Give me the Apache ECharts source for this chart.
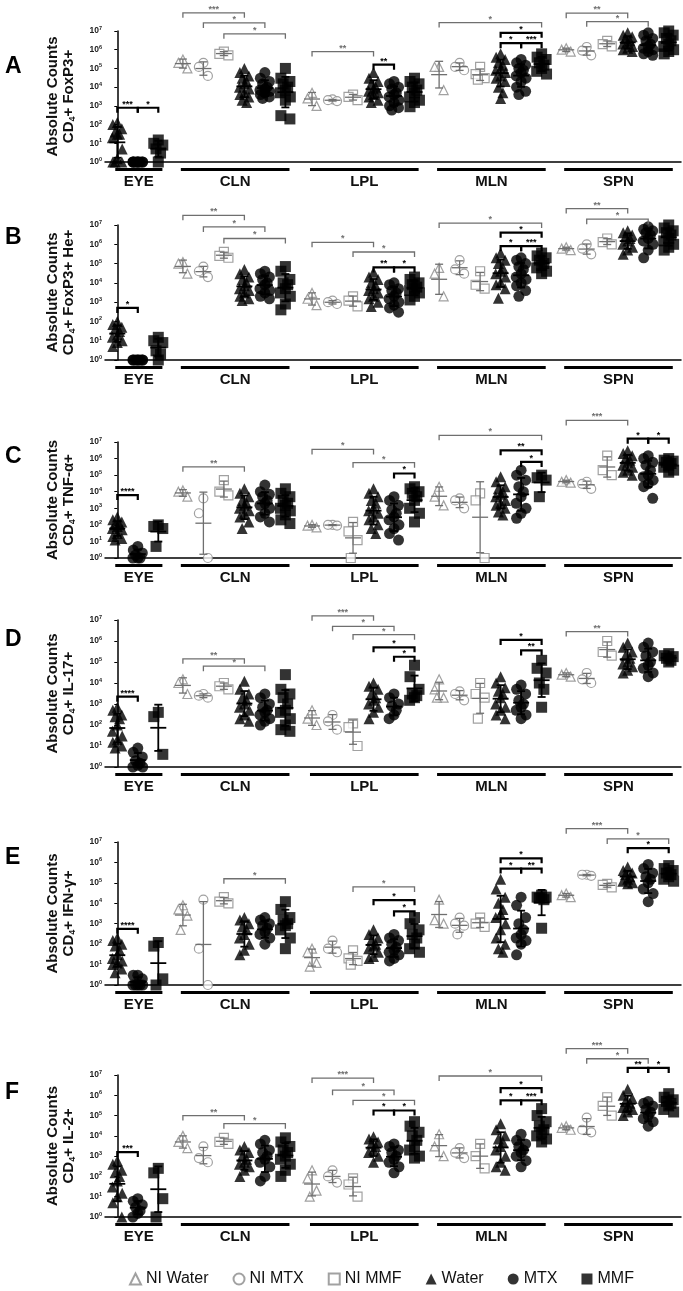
<!DOCTYPE html>
<html><head><meta charset="utf-8">
<script src="https://cdn.jsdelivr.net/npm/echarts@6/dist/echarts.min.js"></script>
<style>html,body{margin:0;padding:0;background:#fff}#c{width:683px;height:1291px}</style>
</head><body><div id="c"></div>
<script>
// ---------------- DATA ----------------
const tissues = ['EYE', 'CLN', 'LPL', 'MLN', 'SPN'];
const groupNames = ['NI Water', 'NI MTX', 'NI MMF', 'Water', 'MTX', 'MMF'];
const panelLetters = ['A', 'B', 'C', 'D', 'E', 'F'];
const markerLabels = ['FoxP3+', 'FoxP3+ He+', 'TNF-\u03b1+', 'IL-17+', 'IFN-\u03b3+', 'IL-2+'];
const yTickExponents = [0, 1, 2, 3, 4, 5, 6, 7];

// EYE: [Water, MTX, MMF]; other tissues: [NI Water, NI MTX, NI MMF, Water, MTX, MMF]
const A_EYE = [[1, 1, 1.5, 5, 20, 30, 40, 60, 100, 130, 1, 30], [1, 1, 1, 1, 1, 1, 1, 1, 1, 1], [1, 3, 5, 8, 10, 15]];
const A_CLN = [[3e5, 1e5, 2e5], [2e5, 4e4, 1.2e5], [8e5, 5e5, 6e5],
  [1e5, 6e4, 4e4, 3e4, 2e4, 1.5e4, 1e4, 8e3, 5e3, 4e3, 3e3, 2e3, 1.5e3],
  [6e4, 3e4, 2e4, 1.5e4, 1e4, 8e3, 7e3, 6e3, 5e3, 4e3, 3e3, 2.5e3],
  [1e5, 3e4, 2e4, 1.5e4, 1e4, 7e3, 5e3, 3e3, 2e3, 300, 200]];
const A_LPL = [[5e3, 1e3, 2.5e3], [2e3, 1.8e3, 2.2e3], [4e3, 2e3, 3e3],
  [6e4, 3e4, 2e4, 1.5e4, 1e4, 8e3, 6e3, 5e3, 4e3, 3e3, 2e3, 1.5e3],
  [2e4, 1.5e4, 1e4, 8e3, 5e3, 4e3, 3e3, 2e3, 1.5e3, 1e3, 800, 600],
  [3e4, 2e4, 1.5e4, 1e4, 7e3, 5e3, 3e3, 2e3, 1.5e3, 900]];
const A_MLN = [[1.2e5, 1.2e5, 7e3], [2e5, 8e4, 1.2e5], [1.2e5, 3e4, 5e4, 2.5e4],
  [6e5, 4e5, 3e5, 2e5, 1.5e5, 1e5, 8e4, 6e4, 4e4, 3e4, 2e4, 1e4, 5e3, 2.5e3],
  [3e5, 2e5, 1.5e5, 1e5, 8e4, 6e4, 4e4, 3e4, 2e4, 1e4, 6e3, 4e3],
  [6e5, 4e5, 3e5, 2e5, 1.5e5, 1e5, 7e4, 5e4]];
const A_SPN = [[1e6, 8e5, 1.2e6], [1.4e6, 5e5, 9e5], [3e6, 1.5e6, 2e6],
  [8e6, 6e6, 5e6, 4e6, 3e6, 2.5e6, 2e6, 1.5e6, 1.2e6, 1e6, 8e5],
  [8e6, 6e6, 4e6, 3e6, 2e6, 1.5e6, 1.2e6, 1e6, 8e5, 6e5, 5e5],
  [1e7, 8e6, 6e6, 4e6, 3e6, 2e6, 1.5e6, 1e6, 8e5, 6e5]];

const B_EYE = [[100, 70, 50, 40, 30, 20, 15, 10, 8, 5], [1, 1, 1, 1, 1, 1, 1, 1], [1, 2, 3, 8, 10, 15]];
const B_CLN = [[1.2e5, 3e4, 1e5], [7e4, 2e4, 4e4], [4e5, 2e5, 2.5e5],
  [5e4, 3e4, 2e4, 1.5e4, 1e4, 7e3, 5e3, 4e3, 3e3, 2e3, 1.5e3, 1.2e3],
  [4e4, 3e4, 2e4, 1.5e4, 1e4, 8e3, 5e3, 4e3, 3e3, 2e3, 1.5e3],
  [7e4, 4e4, 1.5e4, 1e4, 8e3, 5e3, 3e3, 2e3, 800, 400]];
const B_LPL = [[3e3, 700, 1.5e3], [1.2e3, 800, 1e3], [2e3, 600, 1.2e3],
  [3.5e4, 2e4, 1.5e4, 1e4, 7e3, 5e3, 4e3, 3e3, 2e3, 1.5e3, 1e3, 600],
  [1e4, 8e3, 5e3, 4e3, 3e3, 2e3, 1.5e3, 1e3, 700, 500, 300],
  [2e4, 1.5e4, 1e4, 8e3, 6e3, 5e3, 4e3, 3e3, 2e3, 1.3e3]];
const B_MLN = [[6e4, 3e4, 2e3], [1.5e5, 5e4, 3e4], [4e4, 8e3, 5e3],
  [3.5e5, 2e5, 1.5e5, 1e5, 6e4, 4e4, 3e4, 2e4, 1e4, 8e3, 5e3, 1.6e3],
  [2e5, 1.5e5, 1e5, 7e4, 5e4, 3e4, 2e4, 1.5e4, 1e4, 7e3, 4e3, 2e3],
  [3.5e5, 2.5e5, 2e5, 1.5e5, 1e5, 8e4, 6e4, 4e4, 3e4]];
const B_SPN = [[7e5, 5e5, 6e5], [1e6, 3e5, 6e5], [2e6, 1e6, 1.3e6],
  [5e6, 4e6, 3e6, 2.5e6, 2e6, 1.5e6, 1e6, 7e5, 5e5, 3e5],
  [8e6, 6e6, 5e6, 4e6, 3e6, 2e6, 1.5e6, 1e6, 5e5, 2e5],
  [1e7, 7e6, 5e6, 4e6, 3e6, 2e6, 1.5e6, 1e6, 7e5, 5e5]];

const C_EYE = [[300, 200, 150, 100, 100, 80, 60, 50, 30, 20, 15, 12], [5, 3, 2, 1.5, 1, 1, 1], [100, 80, 60, 5]];
const C_CLN = [[1.2e4, 5e3, 1e4], [4e3, 500, 1], [5e4, 1e4, 6e3],
  [1.5e4, 8e3, 5e3, 3e3, 2e3, 1.5e3, 1e3, 700, 500, 300, 150, 60],
  [2.5e4, 1e4, 7e3, 5e3, 3e3, 2e3, 1.5e3, 1e3, 500, 300, 150],
  [1.5e4, 8e3, 5e3, 3e3, 2e3, 1.5e3, 1e3, 700, 400, 200, 120]];
const C_LPL = [[100, 70, 90], [100, 100, 90], [150, 40, 12, 1],
  [1.5e4, 8e3, 5e3, 3e3, 2e3, 1e3, 700, 500, 300, 200, 100, 60, 30],
  [5e3, 3e3, 1.5e3, 800, 500, 300, 200, 100, 60, 30, 12],
  [2e4, 1.5e4, 1e4, 8e3, 5e3, 3e3, 1e3, 500, 150]];
const C_MLN = [[2e4, 5e3, 1.5e3], [3e3, 1e3, 4e3], [8e3, 3e3, 1],
  [8e4, 4e4, 2e4, 1.5e4, 1e4, 7e3, 5e3, 3e3, 2e3, 1.5e3, 1e3, 600, 400],
  [2e5, 1e5, 5e4, 2e4, 1e4, 5e3, 2e3, 1e3, 500, 250],
  [1e5, 7e4, 5e4, 5e3]];
const C_SPN = [[4e4, 5e4, 3.5e4], [3e4, 1.5e4, 4e4], [1.5e6, 1e5, 2e5],
  [3e6, 2e6, 1.5e6, 1e6, 8e5, 6e5, 4e5, 3e5, 2e5, 1.5e5, 1e5],
  [1.5e6, 1e6, 6e5, 4e5, 2e5, 1e5, 8e4, 5e4, 3e4, 2e4, 4e3],
  [1e6, 8e5, 7e5, 6e5, 5e5, 4e5, 3e5, 2e5, 1.5e5]];

const D_EYE = [[700, 500, 300, 250, 200, 100, 50, 30, 20, 15, 10, 8], [8, 5, 3, 2, 1.5, 1.2, 1, 1], [400, 250, 4]];
const D_CLN = [[1.5e4, 1e4, 3e3], [2.5e3, 2e3, 3e3], [1e4, 7e3, 5e3],
  [1.2e4, 5e3, 3e3, 2e3, 1.5e3, 1e3, 700, 500, 300, 200, 150],
  [3e3, 2e3, 1e3, 700, 500, 400, 300, 200, 150, 100],
  [2.5e4, 5e3, 3e3, 2e3, 1e3, 500, 400, 200, 100, 60, 50]];
const D_LPL = [[500, 200, 100], [300, 150, 60], [120, 80, 10],
  [1e4, 7e3, 5e3, 3e3, 2e3, 1.5e3, 1e3, 700, 400, 200],
  [3e3, 2e3, 1e3, 800, 500, 300, 200],
  [7e4, 2e4, 5e3, 3e3, 2.5e3, 2e3, 1.5e3]];
const D_MLN = [[1.5e4, 5e3, 2e3, 2e3], [4e3, 3e3, 1.5e3], [1e4, 3e3, 2e3, 200],
  [2e4, 1e4, 6e3, 4e3, 3e3, 2e3, 1e3, 700, 500, 300, 200],
  [8e3, 5e3, 3e3, 1.5e3, 1e3, 700, 500, 300, 200],
  [1.2e5, 5e4, 3e4, 1e4, 5e3, 700]];
const D_SPN = [[3e4, 2e4, 2.5e4], [3e4, 1e4, 1.5e4], [1e6, 3e5, 2e5],
  [8e5, 5e5, 3e5, 2e5, 1.5e5, 1e5, 8e4, 6e4, 4e4, 3e4],
  [8e5, 5e5, 3e5, 2e5, 1e5, 7e4, 5e4, 3e4, 2e4],
  [2.5e5, 2e5, 1.8e5, 1.5e5, 1.2e5, 1e5]];

const E_EYE = [[200, 150, 100, 80, 50, 30, 20, 15, 12, 10, 6, 4], [3, 3, 2, 1, 1, 1, 1, 1], [120, 80, 2, 1]];
const E_CLN = [[8e3, 5e3, 2.5e3, 500], [1.5e4, 60, 1], [2e4, 1.2e4, 1e4],
  [2e3, 1.5e3, 1e3, 700, 500, 300, 200, 100, 50, 30],
  [2e3, 1.5e3, 1e3, 800, 600, 400, 300, 200, 100],
  [1.2e4, 5e3, 2e3, 1.5e3, 1e3, 800, 500, 200, 60]];
const E_LPL = [[60, 40, 12, 8], [150, 60, 40], [50, 20, 15, 10],
  [500, 300, 200, 150, 100, 80, 60, 40, 25, 20],
  [300, 200, 150, 100, 70, 50, 40, 30, 20, 15],
  [2e3, 1e3, 500, 300, 200, 100, 60, 40]];
const E_MLN = [[1.5e4, 1e3, 1.5e3], [2e3, 1e3, 300, 800], [2e3, 1e3, 700],
  [1.5e5, 5e4, 2e4, 1e4, 5e3, 3e3, 2e3, 1e3, 500, 200, 100, 60, 40],
  [2e4, 8e3, 2e3, 1e3, 500, 300, 200, 150, 100, 30],
  [2.5e4, 2e4, 2e4, 1.8e4, 1.5e4, 600]];
const E_SPN = [[3e4, 2e4, 2.5e4], [2.5e5, 2.5e5, 2.2e5], [8e4, 6e4, 9e4],
  [6e5, 4e5, 3e5, 2.5e5, 2e5, 1.5e5, 1.2e5, 1e5, 9e4],
  [8e5, 5e5, 3e5, 2e5, 1.5e5, 1e5, 5e4, 3e4, 1.2e4],
  [7e5, 5e5, 4e5, 3e5, 2.5e5, 2e5, 1.5e5, 1.2e5]];

const F_EYE = [[600, 400, 200, 150, 100, 60, 30, 15, 10, 5, 1], [8, 6, 4, 3, 2, 1.5, 1], [250, 150, 8, 1]];
const F_CLN = [[1e4, 5e3, 2.5e3], [3e3, 800, 500], [8e3, 5e3, 4e3],
  [3e3, 2e3, 1.5e3, 1e3, 700, 500, 400, 300, 200, 100],
  [6e3, 4e3, 2e3, 1.5e3, 1e3, 700, 500, 300, 100, 60],
  [8e3, 5e3, 3e3, 2e3, 1.5e3, 1e3, 700, 400, 200, 100]];
const F_LPL = [[200, 80, 20, 10], [200, 100, 50], [80, 40, 10],
  [9e3, 7e3, 5e3, 4e3, 3e3, 2e3, 1.5e3, 1e3, 500],
  [4e3, 3e3, 2e3, 1.5e3, 1e3, 700, 500, 300, 150],
  [5e4, 3e4, 1.5e4, 1e4, 6e3, 3e3, 2e3, 1e3, 800]];
const F_MLN = [[1.2e4, 3e3, 1e3], [2.5e3, 1.5e3, 800], [4e3, 1e3, 250],
  [4e4, 2e4, 1e4, 7e3, 5e3, 3e3, 2e3, 1e3, 500, 300, 200],
  [1.2e4, 6e3, 4e3, 3e3, 2e3, 1.5e3, 1e3, 600, 300],
  [2.2e5, 1e5, 5e4, 3e4, 2e4, 1.5e4, 1e4, 7e3, 5e3]];
const F_SPN = [[3e4, 2.5e4, 2e4], [8e4, 2e4, 1.5e4], [8e5, 3e5, 1e5],
  [2e6, 1e6, 7e5, 5e5, 4e5, 3e5, 2.5e5, 2e5, 1.5e5, 1e5],
  [5e5, 4e5, 3e5, 2e5, 1.5e5, 1e5, 7e4, 5e4, 3e4],
  [1.2e6, 8e5, 6e5, 5e5, 4e5, 3e5, 2e5, 1.5e5]];

// significance brackets: [tissue, fromGroup, toGroup, log10 level, stars, NI comparison?]
const A_SIG = [[0, 3, 4, 2.9, '***', 0], [0, 4, 5, 2.9, '*', 0],
  [1, 0, 3, 7.97, '***', 1], [1, 1, 4, 7.43, '*', 1], [1, 2, 5, 6.85, '*', 1],
  [2, 0, 3, 5.9, '**', 1], [2, 3, 4, 5.2, '**', 0],
  [3, 0, 5, 7.45, '*', 1], [3, 3, 5, 6.9, '*', 0], [3, 3, 4, 6.35, '*', 0], [3, 4, 5, 6.35, '***', 0],
  [4, 0, 3, 7.95, '**', 1], [4, 1, 4, 7.5, '*', 1]];
const B_SIG = [[0, 3, 4, 2.7, '*', 0],
  [1, 0, 3, 7.5, '**', 1], [1, 1, 4, 6.9, '*', 1], [1, 2, 5, 6.3, '*', 1],
  [2, 0, 3, 6.1, '*', 1], [2, 2, 5, 5.6, '*', 1], [2, 3, 4, 4.8, '**', 0], [2, 4, 5, 4.8, '*', 0],
  [3, 0, 5, 7.1, '*', 1], [3, 3, 5, 6.6, '*', 0], [3, 3, 4, 5.9, '*', 0], [3, 4, 5, 5.9, '***', 0],
  [4, 0, 3, 7.85, '**', 1], [4, 1, 4, 7.3, '*', 1]];
const C_SIG = [[0, 3, 4, 3.8, '****', 0],
  [1, 0, 3, 5.5, '**', 1],
  [2, 0, 3, 6.55, '*', 1], [2, 2, 5, 5.75, '*', 1], [2, 4, 5, 5.1, '*', 0],
  [3, 0, 5, 7.4, '*', 1], [3, 3, 5, 6.5, '**', 0], [3, 4, 5, 5.8, '*', 0],
  [4, 0, 3, 8.3, '***', 1], [4, 3, 4, 7.2, '*', 0], [4, 4, 5, 7.2, '*', 0]];
const D_SIG = [[0, 3, 4, 3.35, '****', 0],
  [1, 0, 3, 5.15, '**', 1], [1, 1, 4, 4.8, '*', 1],
  [2, 0, 3, 7.2, '***', 1], [2, 1, 4, 6.7, '*', 1], [2, 2, 5, 6.3, '*', 1], [2, 3, 5, 5.7, '*', 0], [2, 4, 5, 5.25, '*', 0],
  [3, 3, 5, 6.05, '*', 0], [3, 4, 5, 5.55, '**', 0],
  [4, 0, 3, 6.45, '**', 1]];
const E_SIG = [[0, 3, 4, 2.75, '****', 0],
  [1, 2, 5, 5.2, '*', 1],
  [2, 2, 5, 4.8, '*', 1], [2, 3, 5, 4.15, '*', 0], [2, 4, 5, 3.6, '*', 0],
  [3, 3, 5, 6.2, '*', 0], [3, 3, 4, 5.7, '*', 0], [3, 4, 5, 5.7, '**', 0],
  [4, 0, 3, 7.65, '***', 1], [4, 2, 5, 7.15, '*', 1], [4, 3, 5, 6.7, '*', 0]];
const F_SIG = [[0, 3, 4, 3.2, '***', 0],
  [1, 0, 3, 5.0, '**', 1], [1, 2, 5, 4.6, '*', 1],
  [2, 0, 3, 6.85, '***', 1], [2, 1, 4, 6.25, '*', 1], [2, 2, 5, 5.75, '*', 1], [2, 3, 4, 5.25, '*', 0], [2, 4, 5, 5.25, '*', 0],
  [3, 0, 5, 6.95, '*', 1], [3, 3, 5, 6.35, '*', 0], [3, 3, 4, 5.75, '*', 0], [3, 4, 5, 5.75, '***', 0],
  [4, 0, 3, 8.3, '***', 1], [4, 1, 4, 7.8, '*', 1], [4, 3, 4, 7.35, '**', 0], [4, 4, 5, 7.35, '*', 0]];

// ---------------- LAYOUT ----------------
const panelData = [
  [A_EYE, A_CLN, A_LPL, A_MLN, A_SPN], [B_EYE, B_CLN, B_LPL, B_MLN, B_SPN],
  [C_EYE, C_CLN, C_LPL, C_MLN, C_SPN], [D_EYE, D_CLN, D_LPL, D_MLN, D_SPN],
  [E_EYE, E_CLN, E_LPL, E_MLN, E_SPN], [F_EYE, F_CLN, F_LPL, F_MLN, F_SPN]];
const panelSig = [A_SIG, B_SIG, C_SIG, D_SIG, E_SIG, F_SIG];
const panelTop = [31, 225, 442, 620, 842, 1075];
const panelBottom = [162, 360, 558, 767, 985, 1217];
const letterY = [67, 238, 457, 640, 858, 1093];
const tissueStart = [-3, 3.2, 9.5, 15.7, 21.9];
const GRID_LEFT = 105, GRID_RIGHT = 2;
const NARROW = "'Liberation Sans Narrow','Arial Narrow','Liberation Sans',sans-serif";
const SANS = "'Liberation Sans',Arial,sans-serif";
const GRAY = '#6f6f6f';
const symbols = ['triangle', 'circle', 'rect', 'triangle', 'circle', 'rect'];
const jitter = [0, -0.22, 0.22, -0.11, 0.11, 0, -0.24, 0.24];

function gpos(t, g) { return tissueStart[t] + g; }
function groupValues(p, t, g) {
  const d = panelData[p][t];
  if (t === 0) return g < 3 ? null : d[g - 3];
  return d[g];
}

const chart = echarts.init(document.getElementById('c'), null, { renderer: 'canvas' });
const grids = [], xAxes = [], yAxes = [], series = [], graphics = [];

for (let p = 0; p < 6; p++) {
  grids.push({ left: GRID_LEFT, right: GRID_RIGHT, top: panelTop[p], height: panelBottom[p] - panelTop[p] });
  xAxes.push({ gridIndex: p, type: 'value', min: -0.6, max: 27.5,
    axisLine: { show: true, onZero: false, lineStyle: { color: '#000', width: 1.5 } },
    axisTick: { show: false }, axisLabel: { show: false }, splitLine: { show: false } });
  yAxes.push({ gridIndex: p, type: 'log', logBase: 10, min: 1, max: 1e7, splitNumber: 7,
    axisLine: { show: true, lineStyle: { color: '#000', width: 1.5 } },
    axisTick: { show: true, length: 3, lineStyle: { color: '#000', width: 1 } },
    splitLine: { show: false },
    axisLabel: { margin: 3,
      formatter: v => { const e = Math.round(Math.log10(v)); return yTickExponents.includes(e) ? '{b|10}{s|' + e + '}' : ''; },
      rich: { b: { fontSize: 8.5, fontWeight: 'bold', color: '#222', fontFamily: SANS },
              s: { fontSize: 5.5, fontWeight: 'bold', color: '#222', fontFamily: SANS, verticalAlign: 'top', padding: [0, 0, 5, 0] } } },
    name: 'Absolute Counts\n{t|CD}{sub|4}{t|+ ' + markerLabels[p] + '}',
    nameLocation: 'middle', nameRotate: 90, nameGap: 28,
    nameTextStyle: { fontSize: 15, fontWeight: 'bold', color: '#111', fontFamily: SANS, lineHeight: 16, align: 'center',
      rich: { t: { fontSize: 15, fontWeight: 'bold', color: '#111', fontFamily: SANS },
              sub: { fontSize: 9, fontWeight: 'bold', color: '#111', fontFamily: SANS, verticalAlign: 'bottom', padding: [4, 0, 0, 0] } } } });

  // scatter points
  for (let g = 0; g < 6; g++) {
    const pts = [];
    for (let t = 0; t < 5; t++) {
      const vals = groupValues(p, t, g);
      if (!vals) continue;
      const sorted = vals.slice().sort((a, b) => b - a);
      sorted.forEach((v, i) => pts.push([gpos(t, g) + jitter[i % jitter.length], v]));
    }
    const ni = g < 3;
    series.push({ type: 'scatter', name: groupNames[g], xAxisIndex: p, yAxisIndex: p, data: pts,
      symbol: symbols[g], symbolSize: ni ? 9 : 11, z: ni ? 3 : 2,
      itemStyle: ni ? { color: '#fff', borderColor: '#8a8a8a', borderWidth: 1.2 } : { color: '#000', borderWidth: 0 },
      emphasis: { disabled: true }, silent: true });
  }

  // mean +/- SD bars (computed on log10 values)
  const bars = [];
  for (let t = 0; t < 5; t++) for (let g = 0; g < 6; g++) {
    const vals = groupValues(p, t, g);
    if (!vals) continue;
    const lv = vals.map(v => Math.log10(v));
    const n = lv.length, m = lv.reduce((a, b) => a + b, 0) / n;
    const sd = Math.sqrt(lv.reduce((a, b) => a + (b - m) * (b - m), 0) / Math.max(1, n - 1));
    bars.push([gpos(t, g), Math.pow(10, m), Math.max(1, Math.pow(10, m - sd)), Math.min(1e7, Math.pow(10, m + sd)), g < 3 ? 1 : 0]);
  }
  series.push({ type: 'custom', xAxisIndex: p, yAxisIndex: p, data: bars, z: 5, silent: true,
    encode: { x: 0, y: 1 },
    renderItem: (params, api) => {
      const x = api.value(0);
      const pm = api.coord([x, api.value(1)]), pl = api.coord([x, api.value(2)]), ph = api.coord([x, api.value(3)]);
      const ni = api.value(4) === 1;
      const st = { stroke: ni ? GRAY : '#000', lineWidth: ni ? 1.3 : 1.8 };
      const ch = [
        { type: 'line', shape: { x1: pl[0], y1: pl[1], x2: ph[0], y2: ph[1] }, style: st },
        { type: 'line', shape: { x1: ph[0] - 4, y1: ph[1], x2: ph[0] + 4, y2: ph[1] }, style: st },
        { type: 'line', shape: { x1: pm[0] - 8, y1: pm[1], x2: pm[0] + 8, y2: pm[1] }, style: st }];
      if (api.value(2) > 1.01) ch.push({ type: 'line', shape: { x1: pl[0] - 4, y1: pl[1], x2: pl[0] + 4, y2: pl[1] }, style: st });
      return { type: 'group', children: ch };
    } });

  // significance brackets
  const sig = panelSig[p];
  series.push({ type: 'custom', xAxisIndex: p, yAxisIndex: p, z: 6, silent: true,
    data: sig.map(s => [gpos(s[0], s[1]), gpos(s[0], s[2]), Math.pow(10, s[3])]),
    encode: { x: 0, y: 2 },
    renderItem: (params, api) => {
      const s = sig[params.dataIndex];
      const ni = s[5] === 1;
      const c = ni ? GRAY : '#000';
      const p1 = api.coord([api.value(0), api.value(2)]), p2 = api.coord([api.value(1), api.value(2)]);
      return { type: 'group', children: [
        { type: 'polyline', shape: { points: [[p1[0], p1[1] + 5], [p1[0], p1[1]], [p2[0], p2[1]], [p2[0], p2[1] + 5]] },
          style: { stroke: c, lineWidth: ni ? 1.3 : 2.2, fill: null } },
        { type: 'text', style: { text: s[4], x: (p1[0] + p2[0]) / 2, y: p1[1] + 1, align: 'center', verticalAlign: 'bottom',
          fill: c, font: 'bold 9px ' + SANS } }] };
    } });

  // tissue underlines and labels
  const tdata = tissues.map((name, t) => [gpos(t, t === 0 ? 3 : 0) - 0.1, gpos(t, 5) + 0.2, 1]);
  series.push({ type: 'custom', xAxisIndex: p, yAxisIndex: p, z: 4, silent: true, data: tdata,
    encode: { x: 0, y: 2 },
    renderItem: (params, api) => {
      const a = api.coord([api.value(0), 1]), b = api.coord([api.value(1), 1]);
      return { type: 'group', children: [
        { type: 'rect', shape: { x: a[0], y: a[1] + 6, width: b[0] - a[0], height: 3 }, style: { fill: '#000' } },
        { type: 'text', style: { text: tissues[params.dataIndex], x: (a[0] + b[0]) / 2, y: a[1] + 20, align: 'center',
          verticalAlign: 'middle', fill: '#111', font: 'bold 15px ' + NARROW } }] };
    } });

  graphics.push({ type: 'text', left: 5, top: letterY[p] - 12,
    style: { text: panelLetters[p], font: 'bold 23px ' + SANS, fill: '#000' } });
}

chart.setOption({
  animation: false,
  backgroundColor: '#fff',
  grid: grids, xAxis: xAxes, yAxis: yAxes, series: series, graphic: graphics,
  legend: { data: groupNames, left: 124, top: 1266, itemWidth: 11, itemHeight: 11, itemGap: 24, selectedMode: false,
    textStyle: { fontSize: 16, color: '#111', fontFamily: NARROW } }
});
</script></body></html>
